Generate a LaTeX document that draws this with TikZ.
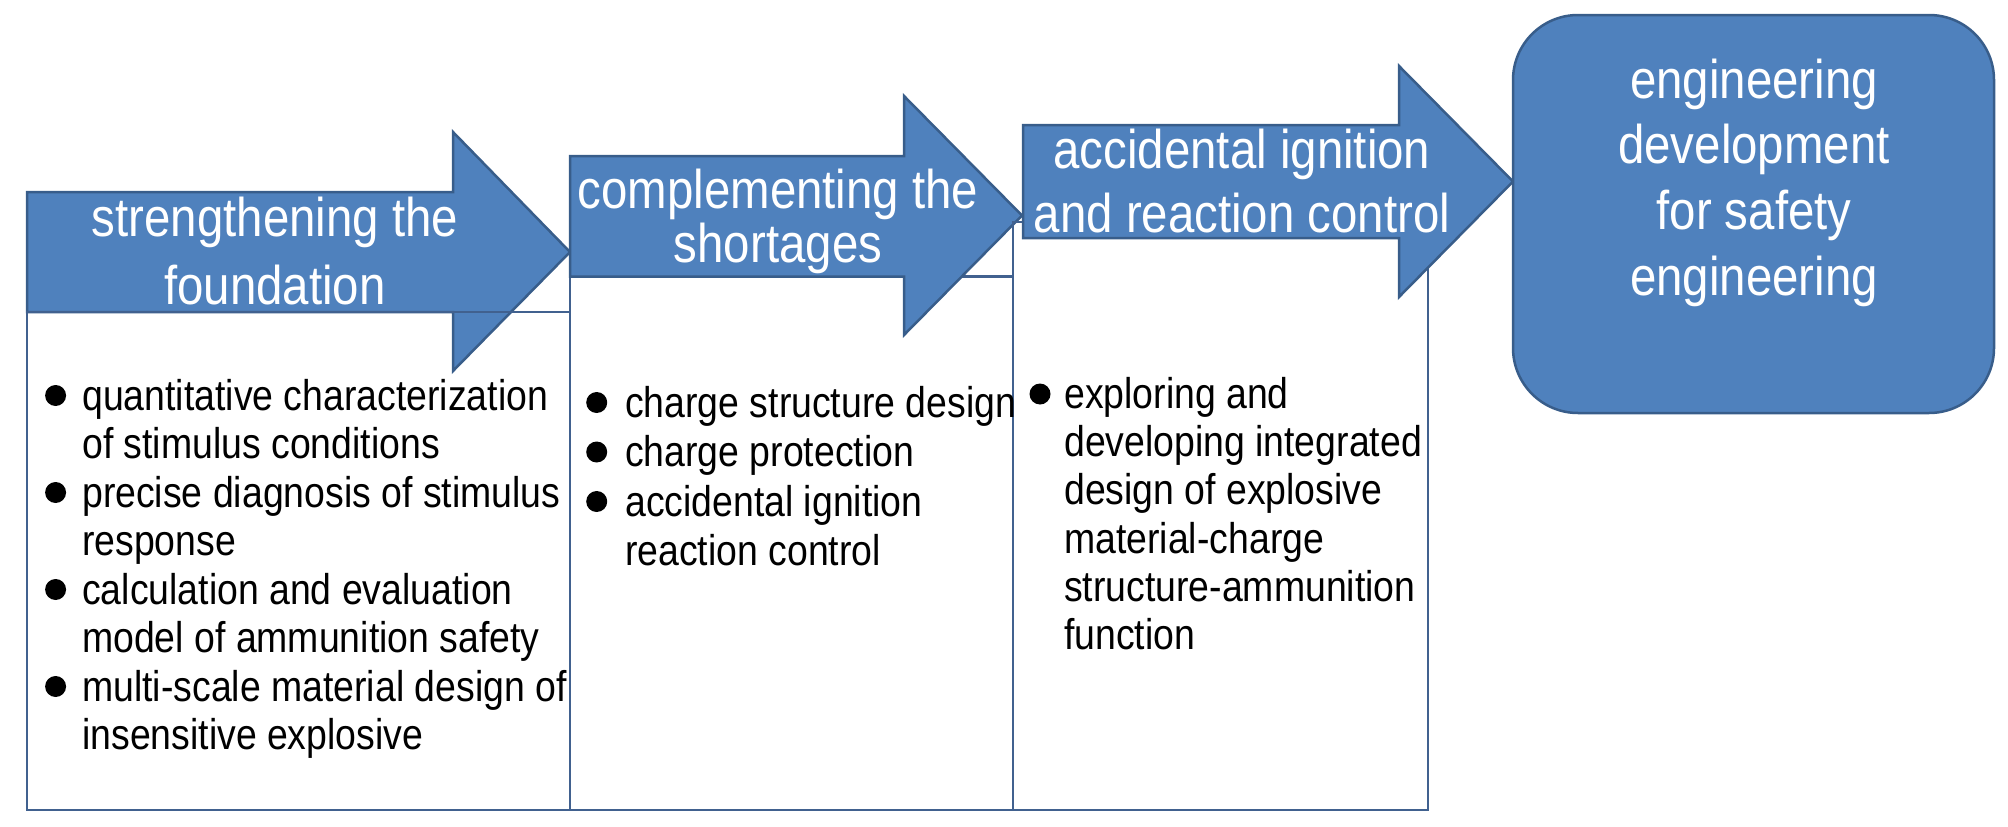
\documentclass[tikz,border=0pt]{standalone}
\usepackage{fontspec}
\setmainfont[FakeStretch=0.87]{Liberation Sans}
\definecolor{fillblue}{HTML}{4F81BD}
\definecolor{edgeblue}{HTML}{385D8A}
\definecolor{boxline}{HTML}{41618F}
\newcommand\ttlfont{\fontsize{54.5}{68}\selectfont}
\newcommand\bodyfont{\fontsize{43}{48.5}\selectfont}
\begin{document}
\begin{tikzpicture}[x=1pt,y=-1pt,
  arrowshape/.style={fill=fillblue,draw=edgeblue,line width=2.5pt,line join=miter},
  stagebox/.style={draw=boxline,line width=2.5pt},
  dot/.style={fill=black},
  titletext/.style={inner sep=0pt,anchor=base,text=white},
  bodytext/.style={inner sep=0pt,anchor=base west,text=black}]
\useasboundingbox (0,0) rectangle (2008,827);

% arrow 1 and box 1
\draw[arrowshape] (27,192) -- (453,192) -- (453,132) -- (570,252) -- (453,371) -- (453,312) -- (27,312) -- cycle;
\draw[stagebox] (27,312) rectangle (570,810);
% box 2 and arrow 2
\draw[stagebox] (570,276.5) rectangle (1013,810);
\draw[arrowshape] (570,156) -- (904,156) -- (904,96) -- (1022,215.5) -- (904,335) -- (904,276.5) -- (570,276.5) -- cycle;
% box 3 and arrow 3
\draw[stagebox] (1013,222) rectangle (1428,810);
\draw[arrowshape] (1023,125) -- (1399,125) -- (1399,66) -- (1513,181.5) -- (1399,297) -- (1399,238) -- (1023,238) -- cycle;
% goal
\draw[arrowshape,rounded corners=65pt] (1513,15) rectangle (1994,413);

% titles
\node[titletext] (t1) at (275,236) {\parbox[t]{520pt}{\centering\ttlfont strengthening the\\foundation}};
\node[titletext] (t2) at (778,208.5) {\parbox[t]{520pt}{\centering\fontsize{54.5}{54}\selectfont complementing the\\shortages}};
\node[titletext] (t3) at (1242,168) {\parbox[t]{520pt}{\centering\fontsize{54.5}{64}\selectfont accidental ignition\\and reaction control}};
\node[titletext] (t4) at (1754,98) {\parbox[t]{480pt}{\centering\fontsize{54.5}{65.7}\selectfont engineering\\development\\for safety\\engineering}};

% box 1 items
\fill[dot] (55.6,395.5) circle[radius=10.5pt];
\node[bodytext] (b1a) at (82,410) {\parbox[t]{600pt}{\raggedright\bodyfont quantitative characterization\\of stimulus conditions}};
\fill[dot] (55.6,492.5) circle[radius=10.5pt];
\node[bodytext] (b1b) at (82,507) {\parbox[t]{600pt}{\raggedright\bodyfont precise diagnosis of stimulus\\response}};
\fill[dot] (55.6,589.5) circle[radius=10.5pt];
\node[bodytext] (b1c) at (82,604) {\parbox[t]{600pt}{\raggedright\bodyfont calculation and evaluation\\model of ammunition safety}};
\fill[dot] (55.6,686.5) circle[radius=10.5pt];
\node[bodytext] (b1d) at (82,701) {\parbox[t]{600pt}{\raggedright\bodyfont multi-scale material design of\\insensitive explosive}};

% box 2 items
\fill[dot] (596.7,402.5) circle[radius=10.5pt];
\node[bodytext] (b2a) at (625,417) {\parbox[t]{600pt}{\raggedright\bodyfont charge structure design}};
\fill[dot] (596.7,452) circle[radius=10.5pt];
\node[bodytext] (b2b) at (625,466.5) {\parbox[t]{600pt}{\raggedright\bodyfont charge protection}};
\fill[dot] (596.7,501.5) circle[radius=10.5pt];
\node[bodytext] (b2c) at (625,516) {\parbox[t]{600pt}{\raggedright\fontsize{43}{49.5}\selectfont accidental ignition\\reaction control}};

% box 3 item
\fill[dot] (1040,394) circle[radius=10.5pt];
\node[bodytext] (b3a) at (1064,408.3) {\parbox[t]{600pt}{\raggedright\fontsize{43}{48.3}\selectfont exploring and\\developing integrated\\design of explosive\\material-charge\\structure-ammunition\\function}};
\end{tikzpicture}
\end{document}
